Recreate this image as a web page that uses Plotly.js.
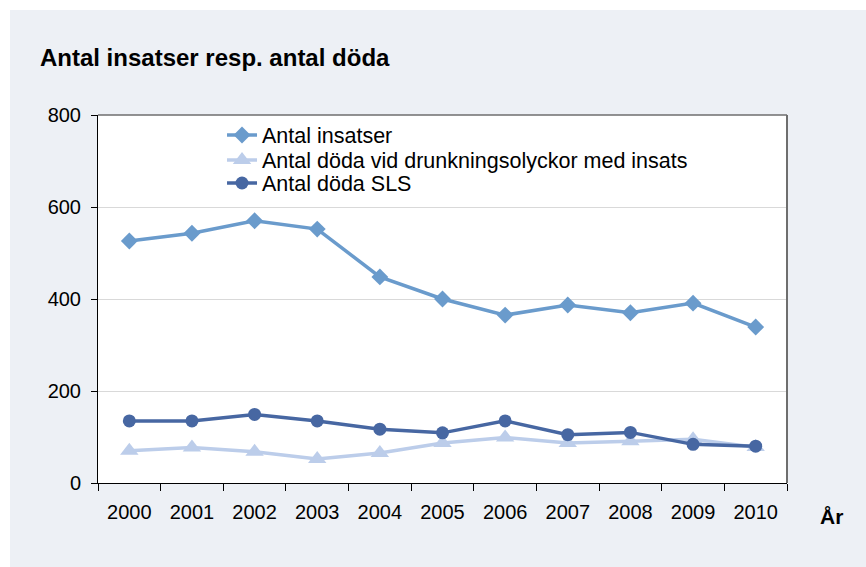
<!DOCTYPE html>
<html>
<head>
<meta charset="utf-8">
<script src="https://cdn.plot.ly/plotly-3.0.1.min.js"></script>
<style>
html,body{margin:0;padding:0;background:#ffffff;}
#chart{position:absolute;left:10px;top:10px;width:856px;height:557px;}
</style>
</head>
<body>
<div id="chart"></div>
<script>
var years = ["2000","2001","2002","2003","2004","2005","2006","2007","2008","2009","2010"];
var antalInsatser = [526, 543, 570, 552, 448, 400, 365, 387, 370, 391, 339];
var dodaDrunkning = [70, 77, 68, 52, 65, 87, 99, 87, 91, 95, 78];
var dodaSLS = [135, 135, 149, 135, 117, 109, 135, 105, 110, 84, 80];
var seriesNames = ["Antal insatser", "Antal döda vid drunkningsolyckor med insats", "Antal döda SLS"];

var font = "Liberation Sans, Arial, sans-serif";
var traces = [
  {x: years, y: antalInsatser, name: seriesNames[0], type: "scatter", mode: "lines+markers", legend: "legend",
   line: {color: "#6a9bcc", width: 3.5}, marker: {symbol: "diamond", size: 13, color: "#6a9bcc"}},
  {x: years, y: dodaDrunkning, name: seriesNames[1], type: "scatter", mode: "lines+markers", legend: "legend2",
   line: {color: "#bccdea", width: 3.5}, marker: {symbol: "triangle-up", size: 16, color: "#bccdea"}},
  {x: years, y: dodaSLS, name: seriesNames[2], type: "scatter", mode: "lines+markers", legend: "legend3",
   line: {color: "#4767a2", width: 3.5}, marker: {symbol: "circle", size: 13, color: "#4767a2"}}
];

function leg(yc) {
  return {x: 0.18, y: yc, xanchor: "left", yanchor: "middle", bgcolor: "rgba(0,0,0,0)",
          font: {family: font, size: 21.5, color: "#000"}, itemwidth: 30};
}

var layout = {
  width: 856, height: 557,
  paper_bgcolor: "#edf0f5",
  plot_bgcolor: "#ffffff",
  margin: {l: 88, r: 79, t: 105, b: 84},
  showlegend: true,
  hovermode: false,
  font: {family: font, size: 20, color: "#000000"},
  title: {text: "<b>Antal insatser resp. antal döda</b>", font: {family: font, size: 24, color: "#000"},
          x: 0.035, xanchor: "left", xref: "container", y: 0.914, yanchor: "middle", yref: "container"},
  legend: leg(0.9457),
  legend2: leg(0.8777),
  legend3: leg(0.8152),
  xaxis: {type: "category", range: [-0.5, 10.5], tickson: "boundaries", ticks: "outside", ticklen: 7, tickcolor: "#000",
          showline: true, linecolor: "#000", linewidth: 1, showgrid: false, zeroline: false,
          ticklabelstandoff: 11,
          tickfont: {family: font, size: 20, color: "#000"}, fixedrange: true},
  yaxis: {range: [0, 800], dtick: 200, ticks: "outside", ticklen: 6, tickcolor: "#000",
          showline: true, linecolor: "#000", linewidth: 1, showgrid: true, gridcolor: "#d9d9d9",
          ticklabelstandoff: 6,
          zeroline: false, tickfont: {family: font, size: 20, color: "#000"}, fixedrange: true},
  shapes: [
    {type: "line", xref: "paper", yref: "paper", x0: 0, x1: 1, y0: 1, y1: 1, line: {color: "#6e6e6e", width: 1.5}},
    {type: "line", xref: "paper", yref: "paper", x0: 1, x1: 1, y0: 0, y1: 1, line: {color: "#6e6e6e", width: 2}}
  ],
  annotations: [
    {text: "<b>År</b>", xref: "paper", yref: "paper", x: 1.065, y: -0.09, xanchor: "center", yanchor: "middle",
     showarrow: false, font: {family: font, size: 21, color: "#000"}}
  ]
};

Plotly.newPlot("chart", traces, layout, {staticPlot: true, displayModeBar: false});
</script>
</body>
</html>
